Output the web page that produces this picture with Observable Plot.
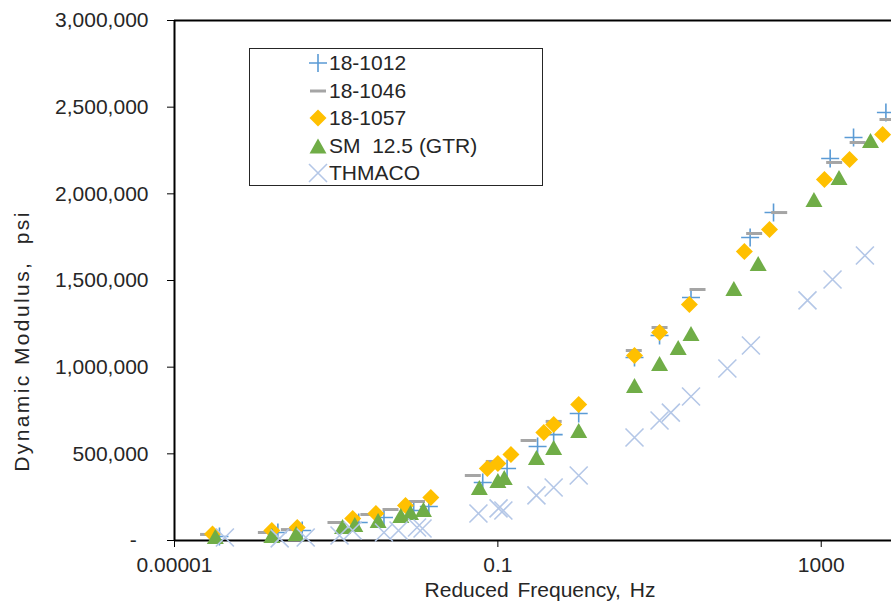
<!DOCTYPE html>
<html>
<head>
<meta charset="utf-8">
<script src="https://cdn.jsdelivr.net/npm/d3@7"></script>
<script src="https://cdn.jsdelivr.net/npm/@observablehq/plot@0.6"></script>
<style>
  html, body { margin: 0; padding: 0; background: #fff; }
  #wrap { position: relative; width: 891px; height: 602px; font-family: "Liberation Sans", Arial, sans-serif; color: #262626; overflow: hidden; }
  .ytitle { position: absolute; left: 22px; top: 341px; transform: translate(-50%, -50%) rotate(-90deg); white-space: nowrap; font-size: 21px; letter-spacing: 2.4px; }
  .xtitle { position: absolute; left: 540px; top: 589px; transform: translate(-50%, -50%); white-space: nowrap; font-size: 21px; word-spacing: 3px; line-height: 21px; }
  .legend { position: absolute; left: 249px; top: 48px; width: 292px; height: 136px; border: 1px solid #262626; background: #fff; }
  .row { position: absolute; left: 0; height: 28px; display: flex; align-items: center; font-size: 21px; white-space: nowrap; }
  .row svg { position: absolute; left: 58px; top: 4px; }
  .row span { position: absolute; left: 79px; }
</style>
</head>
<body>
<div id="wrap"></div>
<script>
// ---- data ----
const series = ["18-1012", "18-1046", "18-1057", "SM 12.5 (GTR)", "THMACO"];

const freq1012 = [3.6e-5, 1.9e-4, 3.8e-4, 1.9e-3, 3.9e-3, 9.1e-3, 0.014, 0.065, 0.13, 0.31, 0.49, 1.0, 4.9, 10, 24.5, 132, 257, 1290, 2510, 6310];
const mod1012  = [23000, 46000, 58000, 104000, 133000, 173000, 196000, 335000, 415000, 542000, 611000, 733000, 1056000, 1183000, 1402000, 1748000, 1892000, 2204000, 2325000, 2469000];

const freq1046 = [2.6e-5, 1.35e-4, 2.6e-4, 9.8e-4, 2.5e-3, 4.7e-3, 0.01, 0.049, 0.089, 0.24, 0.49, 4.8, 10, 29.5, 148, 302, 1445, 2820, 6600];
const mod1046  = [35000, 46000, 63000, 104000, 150000, 179000, 225000, 375000, 456000, 577000, 687000, 1096000, 1229000, 1448000, 1771000, 1892000, 2181000, 2296000, 2429000];

const freq1057 = [2.95e-5, 1.6e-4, 3.3e-4, 1.6e-3, 3.1e-3, 7.2e-3, 0.0148, 0.074, 0.1, 0.145, 0.37, 0.49, 1.0, 4.9, 10, 23.4, 112, 229, 1096, 2240, 5750];
const mod1057  = [38000, 58000, 75000, 127000, 156000, 202000, 248000, 415000, 444000, 496000, 623000, 669000, 785000, 1067000, 1200000, 1361000, 1667000, 1794000, 2083000, 2198000, 2342000];

const freqSM = [3.2e-5, 1.6e-4, 3.2e-4, 1.2e-3, 1.7e-3, 3.3e-3, 6.3e-3, 8.3e-3, 0.012, 0.059, 0.1, 0.12, 0.30, 0.49, 1.0, 4.9, 10, 17, 24.5, 83, 166, 813, 1660, 4070];
const modSM  = [23000, 29000, 40000, 81000, 92000, 115000, 144000, 162000, 179000, 306000, 346000, 363000, 479000, 537000, 635000, 894000, 1021000, 1113000, 1194000, 1454000, 1598000, 1967000, 2094000, 2308000];

const freqTH = [4.2e-5, 2.0e-4, 4.2e-4, 1.1e-3, 1.6e-3, 3.9e-3, 5.9e-3, 0.01, 0.0117, 0.0575, 0.102, 0.117, 0.30, 0.49, 1.0, 4.9, 10, 13.8, 24.5, 69, 135, 676, 1380, 3470];
const modTH  = [17000, 12000, 17000, 29000, 58000, 46000, 58000, 75000, 69000, 156000, 185000, 173000, 260000, 306000, 375000, 594000, 692000, 738000, 831000, 992000, 1125000, 1385000, 1506000, 1644000];

const xTicks = [0.00001, 0.1, 1000];
const xTickLabels = ["0.00001", "0.1", "1000"];
const yTicks = [0, 500000, 1000000, 1500000, 2000000, 2500000, 3000000];

// ---- marker symbols ----
const plusSym = { draw(c) { const h = 9; c.moveTo(-h, 0); c.lineTo(h, 0); c.moveTo(0, -h); c.lineTo(0, h); } };
const dashSym = { draw(c) { const h = 8; c.moveTo(-h, 0); c.lineTo(h, 0); } };
const diamondSym = { draw(c) { const h = 8.5; c.moveTo(0, -h); c.lineTo(h, 0); c.lineTo(0, h); c.lineTo(-h, 0); c.closePath(); } };
const triSym = { draw(c) { const w = 8.5, h = 7.5; c.moveTo(0, -h); c.lineTo(w, h); c.lineTo(-w, h); c.closePath(); } };
const timesSym = { draw(c) { const h = 9; c.moveTo(-h, -h); c.lineTo(h, h); c.moveTo(-h, h); c.lineTo(h, -h); } };

const styles = [
  { sym: plusSym, fill: "none", stroke: "#5B9BD5", sw: 1.6 },
  { sym: dashSym, fill: "none", stroke: "#A5A5A5", sw: 3 },
  { sym: diamondSym, fill: "#FFC000", stroke: "none", sw: 0 },
  { sym: triSym, fill: "#70AD47", stroke: "none", sw: 0 },
  { sym: timesSym, fill: "none", stroke: "#B4C7E7", sw: 1.6 }
];

const toRows = (fs, ms) => fs.map((f, i) => ({ f, m: ms[i] }));
const data = [toRows(freq1012, mod1012), toRows(freq1046, mod1046), toRows(freq1057, mod1057), toRows(freqSM, modSM), toRows(freqTH, modTH)];

const yFmt = d3.format(",");

const chart = Plot.plot({
  width: 891,
  height: 602,
  marginTop: 20,
  marginBottom: 62,
  marginLeft: 174,
  marginRight: 0,
  style: { fontSize: "21px", fontFamily: "'Liberation Sans', Arial, sans-serif", color: "#262626", background: "#fff", overflow: "visible" },
  x: { type: "log", domain: [1e-5, 7400] },
  y: { domain: [0, 3000000] },
  marks: [
    Plot.axisY({ ticks: yTicks, tickSize: 7, tickPadding: 19, stroke: "#000", tickFormat: d => d === 0 ? "-\u2007" : yFmt(d), label: null }),
    Plot.axisX({ ticks: xTicks, tickSize: 7, tickPadding: 10, stroke: "#000", tickFormat: d => xTickLabels[xTicks.indexOf(d)], label: null }),
    Plot.ruleY([3000000], { stroke: "#000", strokeWidth: 2 }),
    Plot.ruleX([1e-5], { stroke: "#000", strokeWidth: 2 }),
    Plot.ruleY([0], { stroke: "#000", strokeWidth: 2 }),
    ...data.map((rows, i) => Plot.dot(rows, {
      x: "f", y: "m", symbol: styles[i].sym, r: 5,
      fill: styles[i].fill, stroke: styles[i].stroke, strokeWidth: styles[i].sw
    }))
  ]
});

const wrap = document.getElementById("wrap");
wrap.appendChild(chart);

const yt = document.createElement("div"); yt.className = "ytitle"; yt.textContent = "Dynamic Modulus,  psi"; yt.style.whiteSpace = "pre"; wrap.appendChild(yt);
const xt = document.createElement("div"); xt.className = "xtitle"; xt.textContent = "Reduced Frequency, Hz"; wrap.appendChild(xt);

// legend
const legend = document.createElement("div"); legend.className = "legend";
const rowCenters = [14, 42, 69, 97, 124];
const symPaths = [
  '<path d="M1,10H19M10,1V19" stroke="#5B9BD5" stroke-width="1.6" fill="none"/>',
  '<path d="M2,10H18" stroke="#A5A5A5" stroke-width="3" fill="none"/>',
  '<path d="M10,1.5L18.5,10L10,18.5L1.5,10Z" fill="#FFC000"/>',
  '<path d="M10,2.5L18.5,17.5L1.5,17.5Z" fill="#70AD47"/>',
  '<path d="M1,1L19,19M1,19L19,1" stroke="#B4C7E7" stroke-width="1.6" fill="none"/>'
];
series.forEach((name, i) => {
  const r = document.createElement("div"); r.className = "row"; r.style.top = (rowCenters[i] - 14) + "px";
  r.innerHTML = `<svg width="20" height="20" viewBox="0 0 20 20">${symPaths[i]}</svg><span>${name.replace("SM ", "SM&nbsp; ")}</span>`;
  legend.appendChild(r);
});
wrap.appendChild(legend);
</script>
</body>
</html>
